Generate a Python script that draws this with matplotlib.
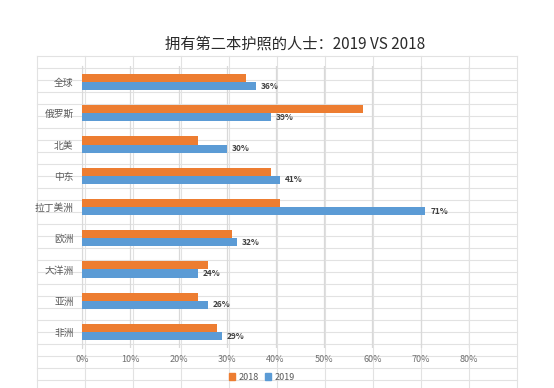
import matplotlib
matplotlib.use("Agg")
import matplotlib.pyplot as plt
from matplotlib.lines import Line2D
from matplotlib.patches import Rectangle
import numpy as np

plt.rcParams['font.family'] = ['Noto Sans CJK SC', 'DejaVu Sans']

categories = ["全球", "俄罗斯", "北美", "中东", "拉丁美洲", "欧洲", "大洋洲", "亚洲", "非洲"]
values_2018 = [34, 58, 24, 39, 41, 31, 26, 24, 28]
values_2019 = [36, 39, 30, 41, 71, 32, 24, 26, 29]
xticks = [0, 10, 20, 30, 40, 50, 60, 70, 80]
title = "拥有第二本护照的人士：2019 VS 2018"

W, H = 554, 388
fig = plt.figure(figsize=(W / 100, H / 100), dpi=100)

# spreadsheet background grid
gc = "#e2e2e2"
for k in range(0, 30):
    y = 56 + 12 * k
    if y > H:
        break
    fig.add_artist(Line2D([37 / W, 517 / W], [1 - y / H, 1 - y / H], color=gc, lw=0.8,
                          transform=fig.transFigure, zorder=0))
for k in range(0, 11):
    x = 37 + 48 * k
    fig.add_artist(Line2D([x / W, x / W], [1 - 56 / H, 0], color=gc, lw=0.8,
                          transform=fig.transFigure, zorder=0))

left, right = 82 / W, 469 / W
top, bottom = 1 - 66.4 / H, 1 - 347.6 / H
ax = fig.add_axes([left, bottom, right - left, top - bottom])
ax.set_facecolor("none")

n = len(categories)
y = np.arange(n)
bh = 0.26
c18 = "#ED7D31"
c19 = "#5B9BD5"
ax.barh(y - bh / 2, values_2018, height=bh, color=c18, label="2018", zorder=3)
ax.barh(y + bh / 2, values_2019, height=bh, color=c19, label="2019", zorder=3)

for yi, v in zip(y, values_2019):
    ax.text(v + 1.0, yi + bh / 2, f"{v}%", va="center", ha="left", fontsize=6,
            fontweight="bold", color="#404040", zorder=4)

ax.set_xlim(0, 80)
ax.set_ylim(n - 0.5, -0.5)
ax.set_yticks(y)
ax.set_yticklabels(categories, fontsize=7, color="#595959")
ax.set_xticks(xticks)
ax.set_xticklabels([f"{t}%" for t in xticks], fontsize=6.5, color="#707070")
ax.tick_params(axis="both", length=0)
ax.tick_params(axis="y", pad=6)
ax.tick_params(axis="x", pad=5)
ax.grid(axis="x", color="#d9d9d9", lw=0.9, zorder=1)
for s in ["top", "right", "bottom"]:
    ax.spines[s].set_visible(False)
ax.spines["left"].set_color("#d9d9d9")

fig.text(295 / W, 1 - 44 / H, title, ha="center", va="center", fontsize=11, color="#2a2a2a")

handles = [Rectangle((0, 0), 1, 1, color=c18), Rectangle((0, 0), 1, 1, color=c19)]
fig.legend(handles, ["2018", "2019"], loc="center", bbox_to_anchor=(262 / W, 1 - 377 / H),
           ncol=2, frameon=False, fontsize=6.5, handlelength=0.7, handleheight=0.7,
           handletextpad=0.4, columnspacing=0.6, labelcolor="#595959")

fig.savefig("out.png", dpi=100, facecolor="white")
